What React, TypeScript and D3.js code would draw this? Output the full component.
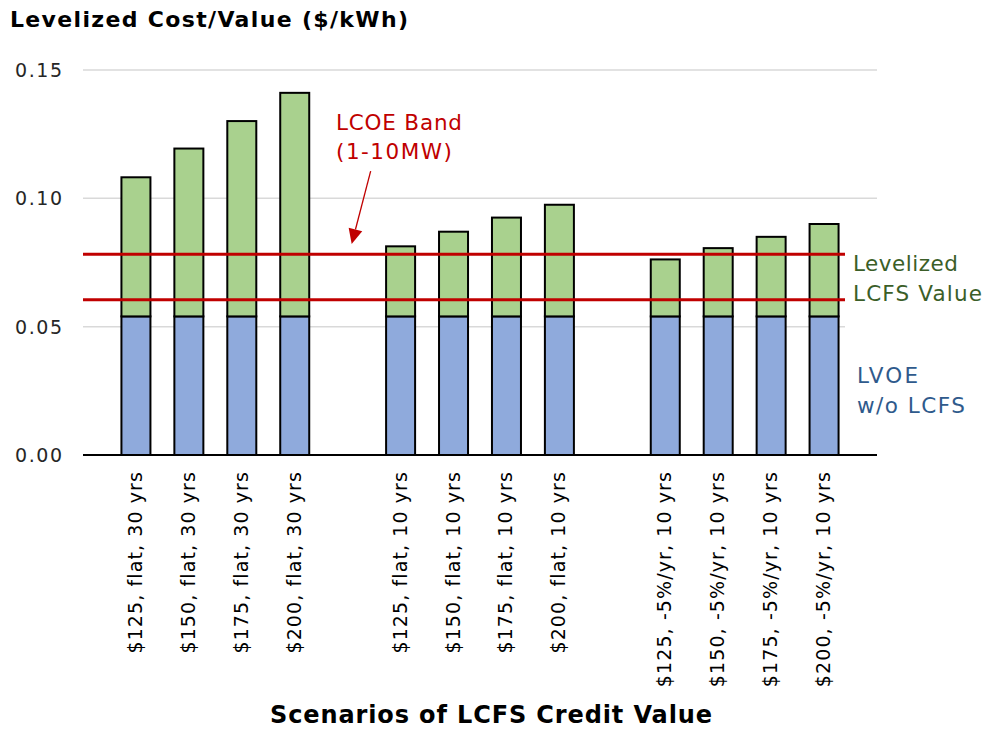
import React from "react";
import * as d3 from "d3";

const categories = [
  "$125, flat, 30 yrs", "$150, flat, 30 yrs", "$175, flat, 30 yrs", "$200, flat, 30 yrs",
  "",
  "$125, flat, 10 yrs", "$150, flat, 10 yrs", "$175, flat, 10 yrs", "$200, flat, 10 yrs",
  " ",
  "$125, -5%/yr, 10 yrs", "$150, -5%/yr, 10 yrs", "$175, -5%/yr, 10 yrs", "$200, -5%/yr, 10 yrs",
];
// LVOE w/o LCFS (blue base)
const lvoeValues = [0.054, 0.054, 0.054, 0.054, null, 0.054, 0.054, 0.054, 0.054, null, 0.054, 0.054, 0.054, 0.054];
// Levelized LCFS Value (green stacked on top)
const lcfsValues = [0.0542, 0.0654, 0.0761, 0.0871, null, 0.0273, 0.033, 0.0385, 0.0435, null, 0.0222, 0.0266, 0.031, 0.036];
const yTicks = [0, 0.05, 0.1, 0.15];
const lcoeBand = [0.0605, 0.0782];

const W = 984, H = 740;
const left = 83, right = 877, top = 70, bottom = 455;

export default function App() {
  const x = d3.scalePoint<string>().domain(categories).range([left, right]).padding(1);
  const y = d3.scaleLinear().domain([0, 0.15]).range([bottom, top]);
  const bw = 29;
  const font = "'DejaVu Sans', Verdana, sans-serif";
  const red = "#C00000";

  const arrowTipX = (x(categories[4]) as number) + 4;
  const arrowTipY = y(0.0822);
  const arrowStartX = arrowTipX + 19;
  const arrowStartY = y(0.1106);
  const ang = Math.atan2(arrowTipY - arrowStartY, arrowTipX - arrowStartX);
  const ah = 15, aw = 7;
  const bx = arrowTipX - ah * Math.cos(ang), by = arrowTipY - ah * Math.sin(ang);
  const px = -Math.sin(ang) * aw, py = Math.cos(ang) * aw;

  return (
    <svg width={W} height={H} style={{ position: "absolute", left: 0, top: 0, background: "#fff" }} fontFamily={font}>
      <rect x={0} y={0} width={W} height={H} fill="#fff" />
      <text x={10} y={27} fontSize={22} fontWeight="bold" fill="#000" textLength={398}>Levelized Cost/Value ($/kWh)</text>
      {yTicks.map((t) => (
        <g key={t}>
          {t > 0 && <line x1={left} x2={right} y1={y(t)} y2={y(t)} stroke="#D9D9D9" strokeWidth={1.5} />}
          <text x={62} y={y(t)} dy="0.36em" textAnchor="end" fontSize={19} fill="#262626" textLength={47}>{t.toFixed(2)}</text>
        </g>
      ))}
      {categories.map((c, i) => {
        const v0 = lvoeValues[i];
        const v1 = lcfsValues[i];
        if (v0 == null || v1 == null) return null;
        const cx = x(c) as number;
        return (
          <g key={i}>
            <rect x={cx - bw / 2} y={y(v0)} width={bw} height={y(0) - y(v0)} fill="#8FAADC" stroke="#000" strokeWidth={2} />
            <rect x={cx - bw / 2} y={y(v0 + v1)} width={bw} height={y(v0) - y(v0 + v1)} fill="#A9D18E" stroke="#000" strokeWidth={2} />
          </g>
        );
      })}
      {lcoeBand.map((v) => (
        <line key={v} x1={left} x2={right} y1={y(v)} y2={y(v)} stroke={red} strokeWidth={3} />
      ))}
      <rect x={845} y={240} width={W - 845} height={200} fill="#fff" />
      <line x1={left} x2={right} y1={bottom} y2={bottom} stroke="#000" strokeWidth={2} />
      {categories.map((c, i) =>
        c.trim() ? (
          <text key={i} transform={`translate(${(x(c) as number) + 6},${471}) rotate(-90)`} textAnchor="end" fontSize={19} letterSpacing={1.1} fill="#000">{c}</text>
        ) : null
      )}
      <text x={336} y={130} fontSize={21.5} fill={red} textLength={126}>LCOE Band</text>
      <text x={336} y={159} fontSize={21.5} fill={red} textLength={116}>(1-10MW)</text>
      <line x1={arrowStartX} y1={arrowStartY} x2={bx} y2={by} stroke={red} strokeWidth={1.3} />
      <polygon points={`${arrowTipX},${arrowTipY} ${bx + px},${by + py} ${bx - px},${by - py}`} fill={red} />
      <text x={853} y={271} fontSize={21.5} fill="#3B5E28" textLength={105}>Levelized</text>
      <text x={853} y={301} fontSize={21.5} fill="#3B5E28" textLength={129}>LCFS Value</text>
      <text x={857} y={383} fontSize={21.5} fill="#2F5A8C" textLength={61}>LVOE</text>
      <text x={857} y={413} fontSize={21.5} fill="#2F5A8C" textLength={108}>w/o LCFS</text>
      <text x={270} y={723} fontSize={24} fontWeight="bold" fill="#000" textLength={442}>Scenarios of LCFS Credit Value</text>
    </svg>
  );
}
